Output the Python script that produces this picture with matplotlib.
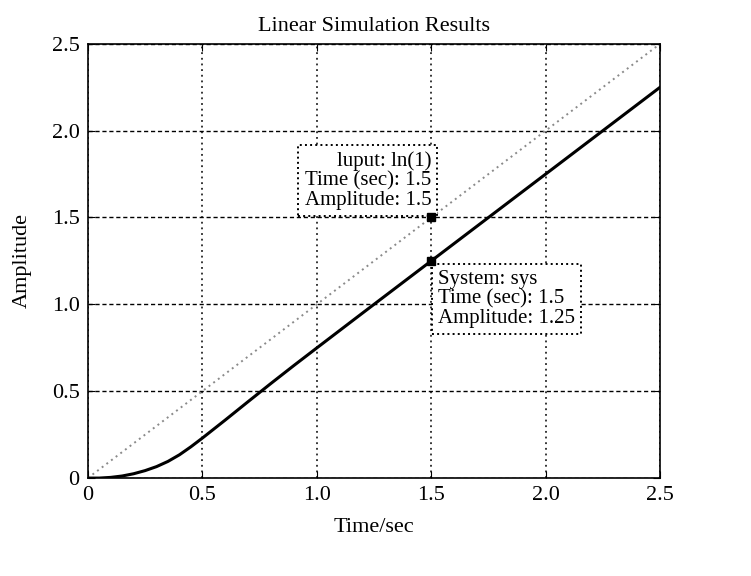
import numpy as np
import matplotlib.pyplot as plt

plt.rcParams['font.family'] = ['Liberation Serif', 'DejaVu Serif']

# input ramp
t_in = [0.0, 2.5]
u_in = [0.0, 2.5]

# system response
t_out = [0.0, 0.05, 0.1, 0.15, 0.2, 0.25, 0.3, 0.35, 0.4, 0.45, 0.5, 0.55, 0.6, 0.7, 0.8, 0.9, 1.0, 1.2, 1.5, 2.0, 2.5]
y_out = [0.0, 0.0, 0.004, 0.012, 0.025, 0.043, 0.066, 0.096, 0.134, 0.18, 0.23, 0.282, 0.334, 0.44, 0.545, 0.648, 0.749, 0.95, 1.25, 1.75, 2.25]

ticks = [0, 0.5, 1.0, 1.5, 2.0, 2.5]
tick_labels = ['0', '0.5', '1.0', '1.5', '2.0', '2.5']

fig = plt.figure(figsize=(7.51, 5.76), dpi=100)
ax = fig.add_axes([0.117, 0.170, 0.762, 0.754])

ax.plot(t_in, u_in, color='#8a8a8a', linestyle=(0, (1, 2)), linewidth=1.4)
ax.plot(t_out, y_out, color='black', linewidth=2.2)

# data tips
box = dict(boxstyle='square,pad=0.3', facecolor='white', edgecolor='black', linestyle=':', linewidth=1.4)
ax.text(1.5, 1.545, 'luput: ln(1)\nTime (sec): 1.5\nAmplitude: 1.5', ha='right', va='bottom',
        fontsize=15, linespacing=1.0, bbox=box, multialignment='right', zorder=4)
ax.text(1.53, 1.195, 'System: sys\nTime (sec): 1.5\nAmplitude: 1.25', ha='left', va='top',
        fontsize=15, linespacing=1.0, bbox=box, multialignment='left', zorder=4)
ax.plot([1.5], [1.5], marker='s', color='black', markersize=6, zorder=5)
ax.plot([1.5], [1.25], marker='s', color='black', markersize=6, zorder=5)

ax.set_xlim(0, 2.5)
ax.set_ylim(0, 2.5)
ax.set_xticks(ticks)
ax.set_xticklabels(tick_labels)
ax.set_yticks(ticks)
ax.set_yticklabels(tick_labels)
ax.tick_params(direction='in', labelsize=16, length=5, pad=6, top=True, right=True)
ax.xaxis.grid(True, color='black', linestyle=(0, (1.2, 2.5)), linewidth=1.1)
ax.yaxis.grid(True, color='black', linestyle=(0, (3, 2)), linewidth=1.0)
for s in ax.spines.values():
    s.set_linewidth(1.2)

ax.set_title('Linear Simulation Results', fontsize=16, pad=9)
ax.set_xlabel('Time/sec', fontsize=16, labelpad=9)
ax.set_ylabel('Amplitude', fontsize=16, labelpad=14)

fig.savefig('out.png', dpi=100)
